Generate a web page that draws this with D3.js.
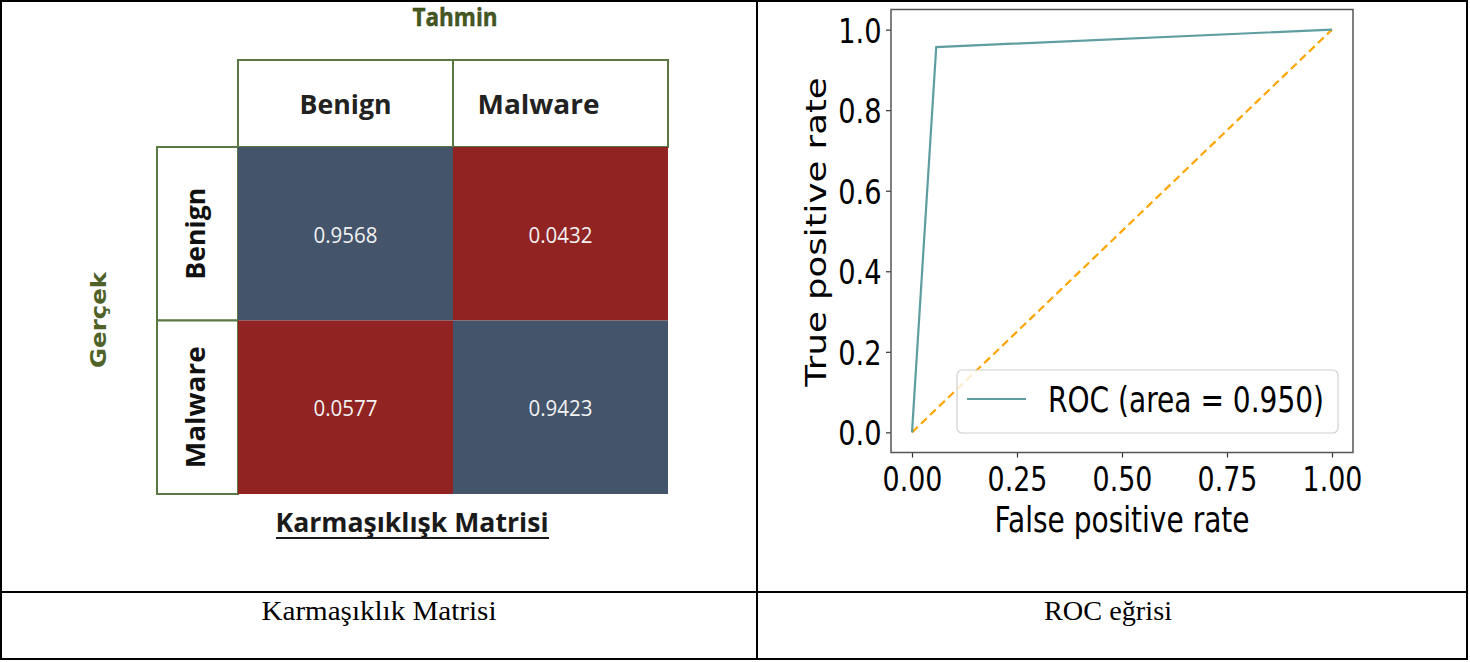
<!DOCTYPE html>
<html>
<head>
<meta charset="utf-8">
<script src="https://cdn.jsdelivr.net/npm/d3@7"></script>
<style>
  html, body { margin: 0; padding: 0; background: #fff; }
  svg { display: block; }
</style>
</head>
<body>
<svg id="chart" width="1470" height="662"></svg>
<script>
// ---------- DATA ----------
const cmClasses = ["Benign", "Malware"];
const cmActual = ["Benign", "Benign", "Malware", "Malware"];
const cmPredicted = ["Benign", "Malware", "Benign", "Malware"];
const cmValues = [0.9568, 0.0432, 0.0577, 0.9423];
const cmCorrect = [true, false, false, true];

const rocFpr = [0, 0.0577, 1];
const rocTpr = [0, 0.9568, 1];
const chanceX = [0, 1];
const chanceY = [0, 1];
const rocXTicks = [0, 0.25, 0.5, 0.75, 1.0];
const rocYTicks = [0, 0.2, 0.4, 0.6, 0.8, 1.0];
const rocLegend = "ROC (area = 0.950)";

const captions = ["Karmaşıklık Matrisi", "ROC eğrisi"];

// ---------- SVG ----------
const svg = d3.select("#chart");

// Table frame
const tbl = svg.append("g").attr("stroke", "#000").attr("stroke-width", 2).attr("fill", "none");
tbl.append("rect").attr("x", 1).attr("y", 1).attr("width", 1466).attr("height", 658);
tbl.append("line").attr("x1", 757).attr("x2", 757).attr("y1", 0).attr("y2", 660);
tbl.append("line").attr("x1", 0).attr("x2", 1468).attr("y1", 592).attr("y2", 592);

// Captions
const capScale = d3.scalePoint().domain(captions).range([379, 1108]);
const capLen = [235, 128];
svg.selectAll("text.caption").data(captions).join("text")
  .attr("class", "caption")
  .attr("x", d => capScale(d)).attr("y", 620)
  .attr("text-anchor", "middle")
  .attr("font-family", "'Liberation Serif', 'Times New Roman', serif")
  .attr("font-size", 27)
  .attr("fill", "#000")
  .attr("textLength", (d, i) => capLen[i]).attr("lengthAdjust", "spacingAndGlyphs")
  .text(d => d);

// ---------- Confusion matrix ----------
const cm = svg.append("g");
const xB = d3.scaleBand().domain(cmClasses).range([238, 668]);
const yB = d3.scaleBand().domain(cmClasses).range([147, 494]);
const borderCol = "#5a7842";
const labFont = "'Open Sans', 'Noto Sans', sans-serif";
const hdrLen = [92, 122];

// header row boxes
cm.selectAll("rect.hdr").data(cmClasses).join("rect")
  .attr("x", d => xB(d)).attr("y", 60)
  .attr("width", xB.bandwidth()).attr("height", 147 - 60)
  .attr("fill", "#fff").attr("stroke", borderCol).attr("stroke-width", 2);
// row label boxes
cm.selectAll("rect.rlab").data(cmClasses).join("rect")
  .attr("x", 157).attr("y", d => yB(d))
  .attr("width", 238 - 157).attr("height", yB.bandwidth())
  .attr("fill", "#fff").attr("stroke", borderCol).attr("stroke-width", 2);

// cells
cm.selectAll("rect.cell").data(cmValues).join("rect")
  .attr("x", (d, i) => xB(cmPredicted[i]))
  .attr("y", (d, i) => yB(cmActual[i]))
  .attr("width", xB.bandwidth()).attr("height", yB.bandwidth())
  .attr("fill", (d, i) => cmCorrect[i] ? "#44546a" : "#912323");

cm.selectAll("text.val").data(cmValues).join("text")
  .attr("x", (d, i) => xB(cmPredicted[i]) + xB.bandwidth() / 2)
  .attr("y", (d, i) => yB(cmActual[i]) + yB.bandwidth() / 2 + 9)
  .attr("text-anchor", "middle")
  .attr("font-family", labFont).attr("font-size", 21)
  .attr("fill", "#f2f2f2")
  .attr("textLength", 64).attr("lengthAdjust", "spacingAndGlyphs")
  .text(d => d.toFixed(4));

// header labels
cm.selectAll("text.hlab").data(cmClasses).join("text")
  .attr("x", d => xB(d) + xB.bandwidth() / 2 - (d === "Malware" ? 22 : 0))
  .attr("y", 114)
  .attr("text-anchor", "middle")
  .attr("font-family", labFont).attr("font-weight", 700).attr("font-size", 27)
  .attr("fill", "#222")
  .attr("textLength", (d, i) => hdrLen[i]).attr("lengthAdjust", "spacingAndGlyphs")
  .text(d => d);

// row labels
cm.selectAll("text.rl").data(cmClasses).join("text")
  .attr("transform", d => `translate(205,${yB(d) + yB.bandwidth() / 2}) rotate(-90)`)
  .attr("text-anchor", "middle")
  .attr("font-family", labFont).attr("font-weight", 700).attr("font-size", 27)
  .attr("fill", "#111")
  .attr("textLength", (d, i) => hdrLen[i]).attr("lengthAdjust", "spacingAndGlyphs")
  .text(d => d);

// Tahmin
cm.append("text")
  .attr("x", 455).attr("y", 26)
  .attr("text-anchor", "middle")
  .attr("font-family", labFont).attr("font-weight", 700).attr("font-size", 25)
  .attr("fill", "#45581f").attr("stroke", "#2e3b12").attr("stroke-width", 0.4)
  .attr("textLength", 85).attr("lengthAdjust", "spacingAndGlyphs")
  .text("Tahmin");

// Gerçek
cm.append("text")
  .attr("transform", "translate(106,320) rotate(-90)")
  .attr("text-anchor", "middle")
  .attr("font-family", "'DejaVu Sans', sans-serif").attr("font-weight", 700).attr("font-size", 21)
  .attr("fill", "#4f6228")
  .attr("textLength", 96).attr("lengthAdjust", "spacingAndGlyphs")
  .text("Gerçek");

// Title
cm.append("text")
  .attr("x", 412).attr("y", 532)
  .attr("text-anchor", "middle")
  .attr("font-family", labFont).attr("font-weight", 700).attr("font-size", 27)
  .attr("fill", "#1a1a1a")
  .attr("textLength", 273).attr("lengthAdjust", "spacingAndGlyphs")
  .text("Karmaşıklışk Matrisi");
cm.append("line")
  .attr("x1", 276).attr("x2", 549).attr("y1", 538).attr("y2", 538)
  .attr("stroke", "#1a1a1a").attr("stroke-width", 2);

// ---------- ROC ----------
const roc = svg.append("g");
const xS = d3.scaleLinear().domain([-0.05, 1.05]).range([891, 1353]);
const yS = d3.scaleLinear().domain([-0.05, 1.05]).range([452.5, 9.5]);
const rocFont = "'DejaVu Sans', sans-serif";
const sx = 0.79;

const xAxis = roc.append("g").attr("transform", "translate(0,452.5)")
  .call(d3.axisBottom(xS).tickValues(rocXTicks).tickFormat(d3.format(".2f")).tickSize(5).tickSizeOuter(0));
xAxis.select(".domain").remove();
xAxis.selectAll("line").attr("stroke", "#333").attr("stroke-width", 1.2);
xAxis.selectAll("text")
  .attr("y", 39).attr("dy", null)
  .attr("transform", `scale(${sx},1)`)
  .attr("font-family", rocFont).attr("font-size", 34).attr("fill", "#000");

const yAxis = roc.append("g").attr("transform", "translate(891,0)")
  .call(d3.axisLeft(yS).tickValues(rocYTicks).tickFormat(d3.format(".1f")).tickSize(5).tickSizeOuter(0));
yAxis.select(".domain").remove();
yAxis.selectAll("line").attr("stroke", "#333").attr("stroke-width", 1.2);
yAxis.selectAll("text")
  .attr("x", -12).attr("dy", "0.36em")
  .attr("transform", `scale(${sx},1)`)
  .attr("font-family", rocFont).attr("font-size", 34.5).attr("fill", "#000");

// chance line
roc.append("path")
  .datum(chanceX.map((x, i) => [x, chanceY[i]]))
  .attr("d", d3.line().x(d => xS(d[0])).y(d => yS(d[1])))
  .attr("fill", "none").attr("stroke", "#ffa500").attr("stroke-width", 2.2)
  .attr("stroke-dasharray", "8,4.5");

// ROC line
roc.append("path")
  .datum(rocFpr.map((x, i) => [x, rocTpr[i]]))
  .attr("d", d3.line().x(d => xS(d[0])).y(d => yS(d[1])))
  .attr("fill", "none").attr("stroke", "#5f9ea0").attr("stroke-width", 2.2);

// frame
roc.append("rect")
  .attr("x", xS(-0.05)).attr("y", yS(1.05))
  .attr("width", xS(1.05) - xS(-0.05)).attr("height", yS(-0.05) - yS(1.05))
  .attr("fill", "none").attr("stroke", "#555").attr("stroke-width", 1.5);

// legend
const lg = roc.append("g");
lg.append("rect")
  .attr("x", 957).attr("y", 370).attr("width", 381).attr("height", 63)
  .attr("rx", 5).attr("ry", 5)
  .attr("fill", "#fff").attr("fill-opacity", 0.8)
  .attr("stroke", "#d0d0d0").attr("stroke-width", 1.2);
lg.append("line")
  .attr("x1", 967).attr("x2", 1026).attr("y1", 399).attr("y2", 399)
  .attr("stroke", "#5f9ea0").attr("stroke-width", 2.2);
lg.append("text")
  .attr("transform", `translate(1048,412) scale(${sx},1)`)
  .attr("font-family", rocFont).attr("font-size", 35.5).attr("fill", "#000")
  .text(rocLegend);

// axis labels
roc.append("text")
  .attr("transform", `translate(1122,532) scale(${sx},1)`)
  .attr("text-anchor", "middle")
  .attr("font-family", rocFont).attr("font-size", 35.5).attr("fill", "#000")
  .text("False positive rate");
roc.append("text")
  .attr("transform", `translate(826,232) rotate(-90) scale(1,${sx})`)
  .attr("text-anchor", "middle")
  .attr("font-family", rocFont).attr("font-size", 35.5).attr("fill", "#000")
  .text("True positive rate");
</script>
</body>
</html>
